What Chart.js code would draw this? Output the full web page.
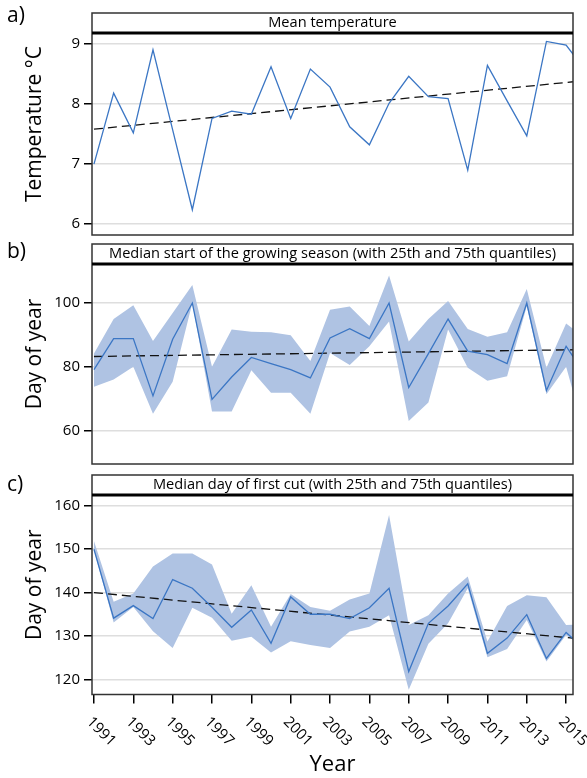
<!DOCTYPE html>
<html>
<head>
<meta charset="utf-8">
<script src="https://cdn.jsdelivr.net/npm/chart.js@4.4.1/dist/chart.umd.min.js"></script>
<style>
    html, body { margin: 0; padding: 0; background: #fff; }
    #wrap { position: relative; width: 587px; height: 778px; }
    #wrap canvas { position: absolute; left: 0; }
</style>
</head>
<body>
<div id="wrap">
    <canvas id="chartA" width="587" height="250" style="top:0px"></canvas>
    <canvas id="chartB" width="587" height="240" style="top:240px"></canvas>
    <canvas id="chartC" width="587" height="308" style="top:470px"></canvas>
</div>
<script>
// years on the x axis
const years = [1991, 1992, 1993, 1994, 1995, 1996, 1997, 1998, 1999, 2000, 2001, 2002, 2003,
               2004, 2005, 2006, 2007, 2008, 2009, 2010, 2011, 2012, 2013, 2014, 2015, 2016];
const xTickYears = [1991, 1993, 1995, 1997, 1999, 2001, 2003, 2005, 2007, 2009, 2011, 2013, 2015];
const trendYears = [1991, 2016];

// a) mean temperature
const tempMean = [7.0, 8.18, 7.52, 8.9, 7.57, 6.24, 7.76, 7.88, 7.83, 8.62, 7.76, 8.58, 8.28,
                  7.62, 7.32, 8.01, 8.46, 8.12, 8.09, 6.9, 8.64, 8.05, 7.47, 9.04, 8.98, 8.55];
const tempTrend = [7.58, 8.39];
const tempTicks = [6, 7, 8, 9];

// b) start of the growing season
const startMedian = [79.2, 88.9, 88.9, 71.0, 88.7, 100, 69.9, 76.9, 83.0, 81.1, 79.2, 76.6, 89.1,
                     92.0, 88.9, 100, 73.6, 84.2, 95.0, 85.0, 83.9, 81.1, 100, 72.7, 86.5, 77.3];
const startQ75 = [84.2, 95.0, 99.3, 88.1, 96.9, 105.6, 80.1, 91.7, 91.0, 90.9, 89.9, 81.9, 97.9,
                  98.9, 92.8, 108.6, 88.0, 95.0, 100.6, 91.9, 89.5, 90.9, 104.4, 79.8, 93.6, 89.0];
const startQ25 = [73.8, 76.1, 80.1, 65.4, 75.4, 100, 66.1, 66.1, 79.0, 72.0, 72.0, 65.4, 84.4,
                  80.6, 86.5, 94.2, 63.1, 68.9, 91.7, 79.8, 75.7, 77.1, 99.0, 71.5, 80.1, 58.0];
const startTrend = [83.3, 85.46];
const startTicks = [60, 80, 100];

// c) day of first cut
const cutMedian = [150.0, 134.1, 137.0, 134.0, 143.0, 141.0, 136.6, 132.0, 136.0, 128.3, 139.0, 135.0, 135.0,
                   134.0, 136.5, 141.0, 121.8, 132.9, 136.9, 142.0, 126.0, 129.5, 134.9, 124.8, 130.8, 126.8];
const cutQ75 = [151.9, 137.9, 139.8, 146.0, 149.0, 149.0, 146.5, 135.1, 141.7, 132.1, 139.7, 136.7, 135.8,
                138.4, 139.8, 157.9, 132.5, 134.8, 139.8, 143.7, 128.7, 136.9, 139.4, 138.9, 132.5, 132.8];
const cutQ25 = [149.8, 133.1, 136.7, 131.1, 127.2, 136.5, 134.2, 128.9, 129.8, 126.2, 128.8, 127.9, 127.2,
                131.0, 132.1, 134.8, 117.6, 128.2, 132.9, 141.0, 125.1, 127.0, 133.7, 124.1, 130.2, 127.0];
const cutTrend = [140.0, 129.2];
const cutTicks = [120, 130, 140, 150, 160];

const FONT = '"Open Sans", "DejaVu Sans", sans-serif';
const LINE_BLUE = '#3b76c4';
const BAND_BLUE = '#afc3e3';

function toPoints(xs, ys) {
    return xs.map((x, i) => ({ x: x, y: ys[i] }));
}

// frame, header strip, y title, panel letter, rotated year labels
const panelFrame = {
    id: 'panelFrame',
    afterDraw(chart, args, opts) {
        const { ctx, chartArea: a } = chart;
        const top = a.top - opts.strip;
        ctx.save();
        ctx.strokeStyle = '#333';
        ctx.lineWidth = 1.5;
        ctx.strokeRect(a.left, top, a.right - a.left, a.bottom - top);
        ctx.strokeStyle = '#000';
        ctx.lineWidth = 3;
        ctx.beginPath();
        ctx.moveTo(a.left, a.top);
        ctx.lineTo(a.right, a.top);
        ctx.stroke();

        ctx.fillStyle = '#000';
        ctx.textAlign = 'center';
        ctx.textBaseline = 'middle';
        ctx.font = '14.6px ' + FONT;
        ctx.fillText(opts.title, (a.left + a.right) / 2, top + opts.strip / 2);

        ctx.save();
        ctx.translate(35, (top + a.bottom) / 2);
        ctx.rotate(-Math.PI / 2);
        ctx.font = '21px ' + FONT;
        ctx.fillText(opts.yTitle, 0, 0);
        ctx.restore();

        ctx.textAlign = 'left';
        ctx.font = '21px ' + FONT;
        ctx.fillText(opts.letter, 7, opts.letterY);

        if (opts.yearLabels) {
            const xs = chart.scales.x;
            ctx.font = '15px ' + FONT;
            xs.ticks.forEach(t => {
                ctx.save();
                ctx.translate(xs.getPixelForValue(t.value) - 5, a.bottom + 25);
                ctx.rotate(Math.PI / 4);
                ctx.fillText(String(t.value), 0, 0);
                ctx.restore();
            });
        }
        ctx.restore();
    }
};

function makePanel(id, cfg) {
    const datasets = [
        {
            data: toPoints(years, cfg.median),
            borderColor: LINE_BLUE,
            borderWidth: 1.3,
            pointRadius: 0,
            fill: false
        },
        {
            data: toPoints(trendYears, cfg.trend),
            borderColor: '#111',
            borderWidth: 1.3,
            borderDash: [9, 5],
            pointRadius: 0,
            fill: false
        }
    ];
    if (cfg.q75) {
        datasets.push({
            data: toPoints(years, cfg.q75),
            borderWidth: 0,
            pointRadius: 0,
            backgroundColor: BAND_BLUE,
            fill: '+1'
        });
        datasets.push({
            data: toPoints(years, cfg.q25),
            borderWidth: 0,
            pointRadius: 0,
            fill: false
        });
    }

    const xAxis = {
        type: 'linear',
        min: 1990.9,
        max: 2015.35,
        display: cfg.showX,
        afterBuildTicks: scale => { scale.ticks = xTickYears.map(v => ({ value: v })); },
        grid: { drawOnChartArea: false, drawTicks: true, tickLength: 9, tickColor: '#000', lineWidth: 1.5 },
        border: { display: false },
        ticks: { display: false }
    };
    if (cfg.showX) {
        xAxis.afterFit = scale => { scale.height = cfg.xHeight; };
        xAxis.title = {
            display: true,
            text: 'Year',
            color: '#000',
            font: { family: FONT, size: 22 },
            padding: { top: 5, bottom: 0 }
        };
    }

    return new Chart(document.getElementById(id), {
        type: 'line',
        data: { datasets: datasets },
        plugins: [panelFrame],
        options: {
            responsive: false,
            animation: false,
            layout: { padding: { top: cfg.padTop, bottom: cfg.padBottom, left: 0, right: 14 } },
            elements: { line: { tension: 0 } },
            plugins: {
                legend: { display: false },
                tooltip: { enabled: false },
                panelFrame: {
                    title: cfg.title,
                    yTitle: cfg.yTitle,
                    letter: cfg.letter,
                    letterY: cfg.letterY,
                    strip: 20,
                    yearLabels: cfg.showX
                }
            },
            scales: {
                x: xAxis,
                y: {
                    min: cfg.yMin,
                    max: cfg.yMax,
                    afterFit: scale => { scale.width = 92; },
                    afterBuildTicks: scale => { scale.ticks = cfg.ticks.map(v => ({ value: v })); },
                    grid: { color: '#dedede', lineWidth: 1.5, drawTicks: true, tickLength: 8, tickColor: '#000' },
                    border: { display: false },
                    ticks: { color: '#000', padding: 4, font: { family: FONT, size: 15 } }
                }
            }
        }
    });
}

makePanel('chartA', {
    median: tempMean, trend: tempTrend, ticks: tempTicks,
    yMin: 5.82, yMax: 9.18,
    title: 'Mean temperature', yTitle: 'Temperature °C', letter: 'a)', letterY: 16,
    padTop: 33, padBottom: 15, showX: false
});

makePanel('chartB', {
    median: startMedian, q75: startQ75, q25: startQ25, trend: startTrend, ticks: startTicks,
    yMin: 49.7, yMax: 112.2,
    title: 'Median start of the growing season (with 25th and 75th quantiles)',
    yTitle: 'Day of year', letter: 'b)', letterY: 12,
    padTop: 24, padBottom: 16, showX: false
});

makePanel('chartC', {
    median: cutMedian, q75: cutQ75, q25: cutQ25, trend: cutTrend, ticks: cutTicks,
    yMin: 116.5, yMax: 162.5,
    title: 'Median day of first cut (with 25th and 75th quantiles)',
    yTitle: 'Day of year', letter: 'c)', letterY: 15,
    padTop: 25, padBottom: 0, showX: true, xHeight: 83.5
});
</script>
</body>
</html>
